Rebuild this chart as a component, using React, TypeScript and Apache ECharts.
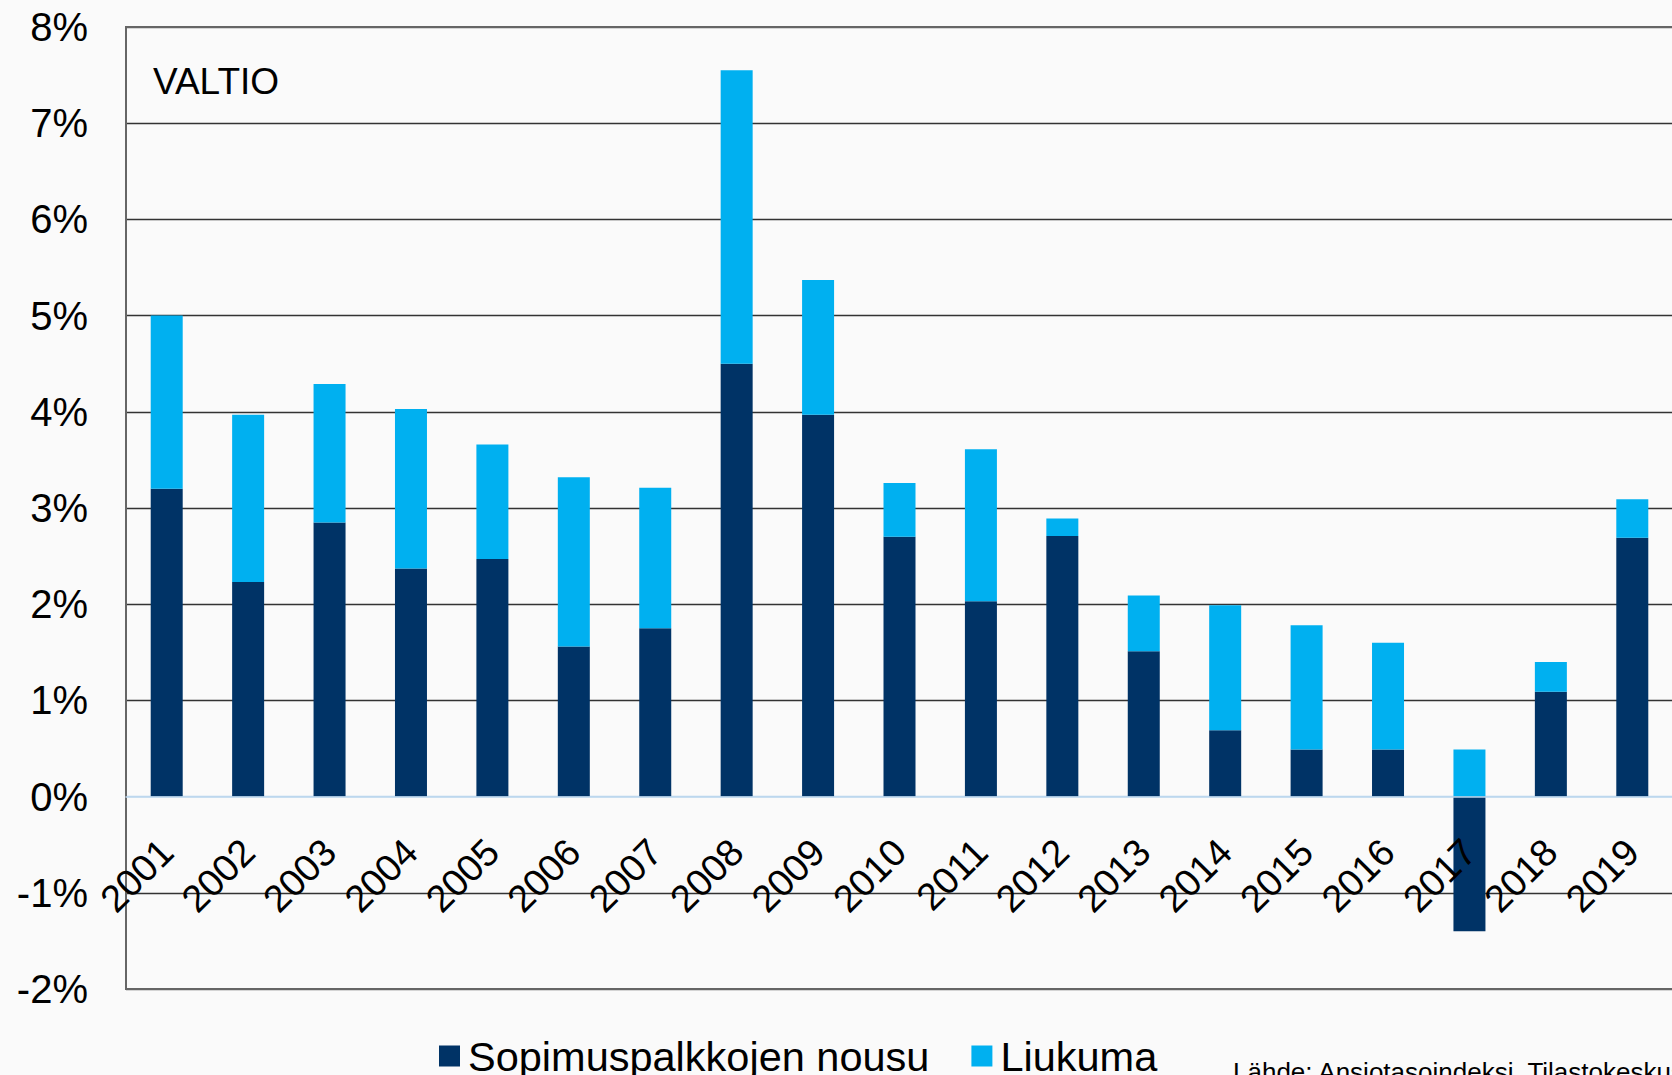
import React, { useEffect, useRef } from "react";
import * as echarts from "echarts";

const years = ["2001", "2002", "2003", "2004", "2005", "2006", "2007", "2008", "2009", "2010", "2011", "2012", "2013", "2014", "2015", "2016", "2017", "2018", "2019"];
const sopimuspalkat = [3.2, 2.23, 2.85, 2.37, 2.47, 1.56, 1.75, 4.5, 3.97, 2.7, 2.03, 2.71, 1.51, 0.69, 0.49, 0.49, -1.4, 1.09, 2.69];
const liukuma = [1.8, 1.74, 1.44, 1.66, 1.19, 1.76, 1.46, 3.05, 1.4, 0.56, 1.58, 0.18, 0.58, 1.3, 1.29, 1.11, 0.49, 0.31, 0.4];
const seriesNames = ["Sopimuspalkkojen nousu", "Liukuma"];
const panelTitle = "VALTIO";
const sourceText = "Lähde: Ansiotasoindeksi, Tilastokeskus";

const FONT = "'Liberation Sans', Arial, sans-serif";

export default function App() {
  const ref = useRef<HTMLDivElement>(null);
  useEffect(() => {
    if (!ref.current) return;
    const chart = echarts.init(ref.current, undefined, { renderer: "svg" });
    const gridColors = ["#666666", "#333333", "#BDD7EE", "#333333", "#333333", "#333333", "#333333", "#333333", "#333333", "#333333", "#666666"];
    const gridTop = 27;
    const gridHeight = 962;
    const yMin = -2;
    const yMax = 8;
    // distance from plot bottom to the zero line, derived from the axis range
    const zeroOffset = (gridHeight * (0 - yMin)) / (yMax - yMin);
    chart.setOption({
      animation: false,
      backgroundColor: "#fafafa",
      textStyle: { fontFamily: FONT },
      grid: {
        left: 126,
        top: gridTop,
        width: 1547,
        height: gridHeight,
        show: true,
        borderColor: "#666666",
        borderWidth: 2,
        backgroundColor: "transparent",
        containLabel: false,
        outerBoundsMode: "none",
      },
      legend: {
        data: seriesNames,
        left: 434,
        top: 1030,
        itemWidth: 21,
        itemHeight: 21,
        itemGap: 42,
        icon: "rect",
        textStyle: { fontSize: 41.5, lineHeight: 42, color: "#000", fontFamily: FONT, padding: [0, 0, 0, 3] },
      },
      xAxis: {
        type: "category",
        data: years,
        position: "bottom",
        offset: -zeroOffset,
        z: 5,
        axisLine: { onZero: false, lineStyle: { color: "#BDD7EE", width: 1.5 } },
        axisTick: { show: false },
        axisLabel: { rotate: 45, margin: 49, fontSize: 38, color: "#000", fontFamily: FONT, interval: 0 },
        splitLine: { show: false },
      },
      yAxis: {
        type: "value",
        min: yMin,
        max: yMax,
        interval: 1,
        axisLine: { show: true, lineStyle: { color: "#666666", width: 2 } },
        axisTick: { show: false },
        axisLabel: { formatter: "{value}%", fontSize: 40, color: "#000", margin: 38, fontFamily: FONT },
        splitLine: { show: true, lineStyle: { color: gridColors, width: 1.3 } },
      },
      series: [
        {
          name: seriesNames[0],
          type: "bar",
          stack: "total",
          data: sopimuspalkat,
          barWidth: 32,
          itemStyle: { color: "#003366" },
        },
        {
          name: seriesNames[1],
          type: "bar",
          stack: "total",
          data: liukuma,
          barWidth: 32,
          itemStyle: { color: "#00B0F0" },
        },
      ],
      graphic: [
        {
          type: "text",
          left: 153,
          top: 63,
          style: { text: panelTitle, fontSize: 37, fill: "#000", fontFamily: FONT },
        },
        {
          type: "text",
          x: 1233,
          y: 1072,
          style: { text: sourceText, fontSize: 26, fill: "#000", fontFamily: FONT, textVerticalAlign: "middle" },
        },
      ],
    });
    return () => chart.dispose();
  }, []);
  return <div ref={ref} style={{ position: "absolute", left: 0, top: 0, width: 1672, height: 1075 }} />;
}
